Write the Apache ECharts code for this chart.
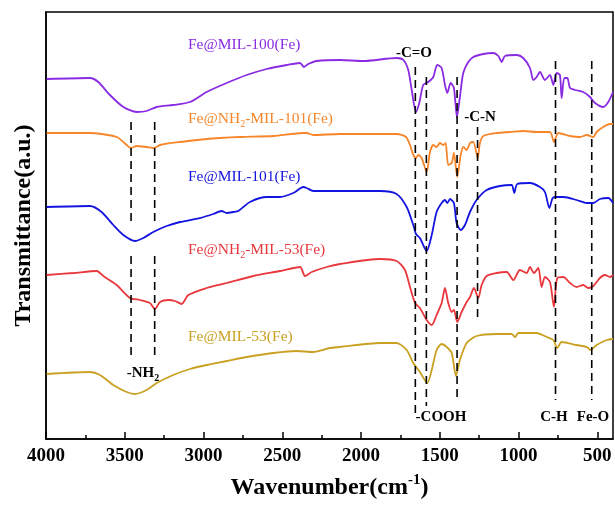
<!DOCTYPE html>
<html>
<head>
<meta charset="utf-8">
<script src="https://cdn.jsdelivr.net/npm/echarts@6/dist/echarts.min.js"></script>
<style>
html,body{margin:0;padding:0;background:#fff}
#main{width:615px;height:508px}
</style>
</head>
<body>
<div id="main"></div>
<script>
// x 轴刻度
var majorTicks = [4000, 3500, 3000, 2500, 2000, 1500, 1000, 500];
var minorTicks = [3750, 3250, 2750, 2250, 1750, 1250, 750];

// Fe@MIL-100(Fe)
var mil100Wn = [3996,3721,3668,3594,3509,3424,3361,3297,3192,3086,2980,2853,2726,2599,2472,2387,2362,2335,2281,2133,1985,1773,1731,1700,1678,1651,1630,1605,1573,1541,1516,1488,1467,1452,1431,1410,1391,1372,1351,1319,1287,1224,1160,1128,1107,1086,1012,970,927,906,885,864,832,800,779,758,737,726,709,690,673,641,589,546,514,462,430,400];
var mil100T = [360,361,357,344,332,327,328,332,334,337,347,356,364,370,374,376,372,375,378,379,378,381,379,369,349,327,336,354,357,362,374,371,354,346,356,351,322,342,366,377,382,385,386,383,377,383,384,381,371,359,362,367,359,364,354,366,364,341,361,361,351,349,347,342,336,332,337,347];

// Fe@NH2-MIL-101(Fe)
var nh2mil101Wn = [3996,3721,3551,3488,3462,3424,3361,3314,3276,3149,2980,2895,2768,2557,2366,2345,2303,2134,1774,1714,1689,1668,1651,1636,1615,1583,1562,1541,1520,1499,1477,1463,1446,1424,1410,1389,1367,1350,1329,1308,1287,1259,1245,1223,1139,1054,970,885,800,775,747,673,610,567,525,504,462,419,400];
var nh2mil101T = [306,306,302,294,291,293,292,291,294,297,300,301,302,303,306,306,304,305,305,302,294,284,281,284,281,267,287,294,292,296,294,296,274,276,286,262,284,292,289,296,297,281,296,303,306,307,308,307,307,297,306,303,302,304,302,307,312,315,315];

// Fe@MIL-101(Fe)
var mil101Wn = [3996,3721,3647,3573,3509,3435,3382,3319,3234,3149,3022,2938,2885,2853,2811,2779,2705,2599,2514,2430,2366,2345,2303,2134,1879,1774,1710,1668,1651,1626,1583,1551,1520,1488,1467,1452,1435,1410,1393,1367,1340,1308,1266,1202,1118,1044,1027,1008,927,864,832,804,783,758,715,631,567,525,483,430,400];
var mil101T = [232,233,227,214,204,198,201,207,213,217,221,225,228,226,227,228,237,242,242,246,252,251,248,248,248,245,232,214,205,201,188,204,227,236,239,236,240,236,216,209,214,227,239,249,253,254,246,255,256,252,247,231,241,242,242,239,236,236,240,241,236];

// Fe@NH2-MIL-53(Fe)
var nh2mil53Wn = [3996,3826,3678,3636,3551,3467,3403,3340,3308,3276,3223,3181,3139,3096,2980,2853,2684,2514,2387,2356,2313,2218,2134,1879,1774,1721,1689,1657,1626,1583,1551,1520,1488,1467,1446,1424,1410,1389,1361,1329,1308,1283,1255,1234,1202,1139,1075,1033,991,948,927,902,874,853,832,800,775,754,715,673,631,589,557,525,483,451,419,400];
var nh2mil53T = [164,166,168,163,154,141,139,136,130,137,139,138,135,144,151,156,163,168,172,163,167,172,175,180,178,169,152,136,131,119,114,124,136,151,136,127,129,117,127,137,142,151,141,154,163,166,167,159,169,166,172,166,171,152,162,157,132,161,162,156,152,154,151,153,161,164,162,164];

// Fe@MIL-53(Fe)
var mil53Wn = [3996,3721,3657,3573,3488,3435,3361,3297,3192,3086,2980,2853,2726,2557,2408,2303,2197,2134,1879,1774,1710,1668,1626,1579,1551,1520,1488,1456,1424,1397,1372,1329,1266,1139,1044,1022,1001,885,821,779,754,726,631,567,542,504,440,400];
var mil53T = [65,67,64,54,47,45,49,56,64,70,74,78,82,86,88,87,91,92,96,96,89,76,67,56,69,89,95,92,86,63,79,96,103,105,105,102,106,106,102,99,91,97,94,92,89,94,99,100];

// 虚线标记：波数、上端、下端
var markWn = [3460, 3460, 3310, 3310, 1655, 1585, 1390, 1260, 765, 535];
var markTop = [317, 183, 317, 183, 372, 362, 362, 312, 378, 378];
var markBottom = [217, 81, 217, 81, 26, 33, 37, 117, 39, 39];

var serif = 'Liberation Serif, Times New Roman, serif';

function pairs(wn, t) {
    return wn.map(function (w, i) { return [w, t[i]]; });
}

var curves = [
    {name: 'Fe@MIL-100(Fe)', color: '#8a2be2', data: pairs(mil100Wn, mil100T)},
    {name: 'Fe@NH2-MIL-101(Fe)', color: '#f7862a', data: pairs(nh2mil101Wn, nh2mil101T)},
    {name: 'Fe@MIL-101(Fe)', color: '#1414e0', data: pairs(mil101Wn, mil101T)},
    {name: 'Fe@NH2-MIL-53(Fe)', color: '#e8383d', data: pairs(nh2mil53Wn, nh2mil53T)},
    {name: 'Fe@MIL-53(Fe)', color: '#c9a021', data: pairs(mil53Wn, mil53T)}
];

var series = curves.map(function (c) {
    return {
        name: c.name,
        type: 'line',
        data: c.data,
        showSymbol: false,
        smooth: 0.25,
        lineStyle: {color: c.color, width: 1.8},
        itemStyle: {color: c.color},
        z: 2
    };
});

markWn.forEach(function (w, i) {
    series.push({
        type: 'line',
        data: [[w, markTop[i]], [w, markBottom[i]]],
        showSymbol: false,
        silent: true,
        lineStyle: {color: '#000', width: 1.6, type: [8, 5]},
        z: 3
    });
});

// 文字标注
function txt(x, y, text, rich, align) {
    return {
        type: 'text', x: x, y: y, z: 10,
        style: {text: text, rich: rich, align: align || 'center', verticalAlign: 'middle'}
    };
}
function seriesRich(color) {
    return {
        n: {fontFamily: serif, fontSize: 15.5, lineHeight: 20, fill: color},
        s: {fontFamily: serif, fontSize: 10, lineHeight: 10, verticalAlign: 'bottom', fill: color}
    };
}
var boldRich = {
    b: {fontFamily: serif, fontSize: 15, fontWeight: 'bold', lineHeight: 20, fill: '#000'},
    s: {fontFamily: serif, fontSize: 10, fontWeight: 'bold', lineHeight: 10, verticalAlign: 'bottom', fill: '#000'}
};

var graphics = [
    txt(188, 45, '{n|Fe@MIL-100(Fe)}', seriesRich(curves[0].color), 'left'),
    txt(188, 119, '{n|Fe@NH}{s|2}{n|-MIL-101(Fe)}', seriesRich(curves[1].color), 'left'),
    txt(188, 177, '{n|Fe@MIL-101(Fe)}', seriesRich(curves[2].color), 'left'),
    txt(188, 250, '{n|Fe@NH}{s|2}{n|-MIL-53(Fe)}', seriesRich(curves[3].color), 'left'),
    txt(188, 337, '{n|Fe@MIL-53(Fe)}', seriesRich(curves[4].color), 'left'),
    txt(414, 53, '{b|-C=O}', boldRich),
    txt(480, 117, '{b|-C-N}', boldRich),
    txt(143, 373, '{b|-NH}{s|2}', boldRich),
    txt(441, 417, '{b|-COOH}', boldRich),
    txt(554, 417, '{b|C-H}', boldRich),
    txt(593, 417, '{b|Fe-O}', boldRich)
];

var chart = echarts.init(document.getElementById('main'));
chart.setOption({
    animation: false,
    backgroundColor: '#fff',
    grid: {left: 46, right: 2, top: 12, bottom: 69, show: true, borderColor: '#000', borderWidth: 1.5},
    xAxis: [{
        type: 'value', min: 400, max: 4000, inverse: true,
        axisLine: {show: true, lineStyle: {color: '#000', width: 1.5}},
        axisTick: {show: true, inside: true, length: 7, customValues: majorTicks, lineStyle: {color: '#000', width: 1.5}},
        axisLabel: {
            customValues: majorTicks, color: '#000', fontFamily: serif, fontSize: 19, fontWeight: 'bold', margin: 8,
            formatter: function (v) { return String(v); }
        },
        splitLine: {show: false},
        name: '{a|Wavenumber(cm}{u|-1}{a|)}',
        nameLocation: 'middle',
        nameGap: 34,
        nameTextStyle: {
            rich: {
                a: {fontFamily: serif, fontSize: 24, fontWeight: 'bold', lineHeight: 30, color: '#000'},
                u: {fontFamily: serif, fontSize: 15, fontWeight: 'bold', lineHeight: 15, verticalAlign: 'top', color: '#000'}
            }
        }
    }, {
        type: 'value', min: 400, max: 4000, inverse: true, position: 'bottom',
        axisLine: {show: false},
        axisTick: {show: true, inside: true, length: 4, customValues: minorTicks, lineStyle: {color: '#000', width: 1.5}},
        axisLabel: {show: false},
        splitLine: {show: false}
    }],
    yAxis: {
        type: 'value', min: 0, max: 427,
        axisLine: {show: true, lineStyle: {color: '#000', width: 1.5}},
        axisTick: {show: false},
        axisLabel: {show: false},
        splitLine: {show: false},
        name: 'Transmittance(a.u.)',
        nameLocation: 'middle',
        nameGap: 10,
        nameTextStyle: {fontFamily: serif, fontSize: 24, fontWeight: 'bold', color: '#000'}
    },
    series: series,
    graphic: graphics
});
</script>
</body>
</html>
